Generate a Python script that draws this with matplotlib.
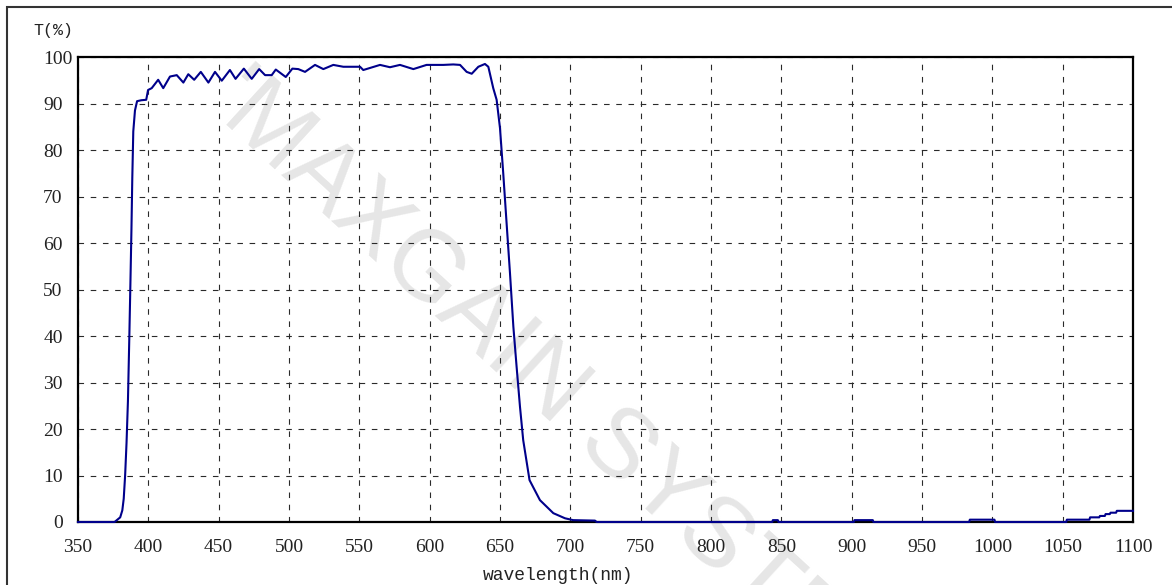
import matplotlib
matplotlib.use("Agg")
import matplotlib.pyplot as plt
import matplotlib.transforms as mtransforms
from matplotlib.patches import Rectangle

# transmission curve
wavelength = [350, 376, 378, 380, 381.5, 382.5, 383.5, 384.5, 385.5, 386.5,
              387.3, 388, 388.6, 389.3, 390.5, 392, 395, 398.5, 399.8, 402.4,
              407, 410.6, 415.4, 420.2, 424.9, 428.4, 432.6, 437.3, 442.7, 447.4,
              452.2, 458, 462, 467.9, 473.5, 478.8, 483, 487.7, 490.6, 497.7,
              502.4, 506.6, 511.4, 518.5, 524.4, 531.5, 538.6, 550.5, 552.8, 564.7,
              571.8, 578.9, 588.4, 597.8, 609.7, 616.8, 621.6, 626.3, 629.9, 634.6,
              639.3, 641.7, 645.2, 647.6, 650, 652.3, 654.7, 657.1, 659.5, 661.8,
              664.2, 666.5, 671, 678.4, 687.9, 696.2, 702, 717.5, 718.7,
              843.5, 844, 847.5, 848, 901.5, 902, 915, 915.5,
              983.5, 984, 1001.5, 1002, 1052.5, 1053, 1069, 1069.5, 1076, 1076.5,
              1080, 1080.5, 1083.5, 1084, 1088, 1088.5, 1100]
transmission = [0, 0, 0.5, 1, 2.5, 5, 10, 17, 26, 40,
                52, 63, 74, 84, 88.5, 90.5, 90.7, 90.8, 92.9, 93.3,
                95.1, 93.3, 95.8, 96.1, 94.5, 96.3, 95.1, 96.8, 94.5, 96.8,
                94.9, 97.2, 95.3, 97.5, 95.3, 97.4, 96.1, 96.1, 97.3, 95.7,
                97.5, 97.4, 96.8, 98.3, 97.4, 98.3, 97.9, 97.9, 97.2, 98.3,
                97.8, 98.3, 97.4, 98.3, 98.3, 98.4, 98.3, 96.8, 96.4, 97.9,
                98.5, 97.9, 93.3, 90.8, 84.7, 75.0, 64.2, 53.5, 42.0, 33.4,
                24.8, 17.6, 9.0, 4.7, 1.9, 0.8, 0.4, 0.3, 0,
                0, 0.4, 0.4, 0, 0, 0.4, 0.4, 0,
                0, 0.5, 0.5, 0, 0, 0.5, 0.5, 1.0, 1.0, 1.3,
                1.3, 1.7, 1.7, 2.0, 2.0, 2.4, 2.4]

x_ticks = list(range(350, 1101, 50))
y_ticks = list(range(0, 101, 10))

fig = plt.figure(figsize=(11.72, 5.85), dpi=100)
ax = fig.add_axes([78 / 1172, 1 - 522 / 585, (1133 - 78) / 1172, (522 - 57) / 585])
ax.set_facecolor("none")

# watermark behind the plot
fig.text(0.19, 0.85, "'MAXGAIN SYSTEMS", fontsize=71, family="Liberation Sans",
         color="#e6e6e6", rotation=-42.5, rotation_mode="anchor",
         ha="left", va="center", zorder=-5)

# outer frame (only left/top visible)
fig.patches.append(Rectangle((7 / 1172, -0.2), 1.3, 1.2 - 7 / 585,
                             transform=fig.transFigure, fill=False,
                             edgecolor="#333333", lw=1.5, zorder=-6))

ax.plot(wavelength, transmission, color="#00008b", lw=1.5, zorder=3, clip_on=False)

ax.set_xlim(350, 1100)
ax.set_ylim(0, 100)
ax.set_xticks(x_ticks)
ax.set_yticks(y_ticks)
ax.tick_params(length=0, labelsize=14)
ax.tick_params(axis="x", pad=12)
ax.tick_params(axis="y", pad=11)
for lab in ax.get_xticklabels() + ax.get_yticklabels():
    lab.set_family("Liberation Serif")
    lab.set_color("#222222")
ylabs = ax.get_yticklabels()
ylabs[-1].set_transform(ylabs[-1].get_transform() +
                        mtransforms.ScaledTranslation(10 / 100, 0, fig.dpi_scale_trans))

ax.grid(True, color="#2a2a2a", lw=0.8, linestyle=(0, (5, 6)))
for s in ax.spines.values():
    s.set_linewidth(1.6)
    s.set_color("black")
    s.set_zorder(2)

fig.text(483 / 1172, (585 - 580) / 585, "wavelength(nm)", family="Liberation Mono",
         fontsize=13, color="#222222", ha="left", va="baseline")
fig.text(33 / 1172, (585 - 35) / 585, "T(%)", family="Liberation Mono",
         fontsize=12, color="#222222", ha="left", va="baseline")

fig.savefig("out.png", dpi=100)
